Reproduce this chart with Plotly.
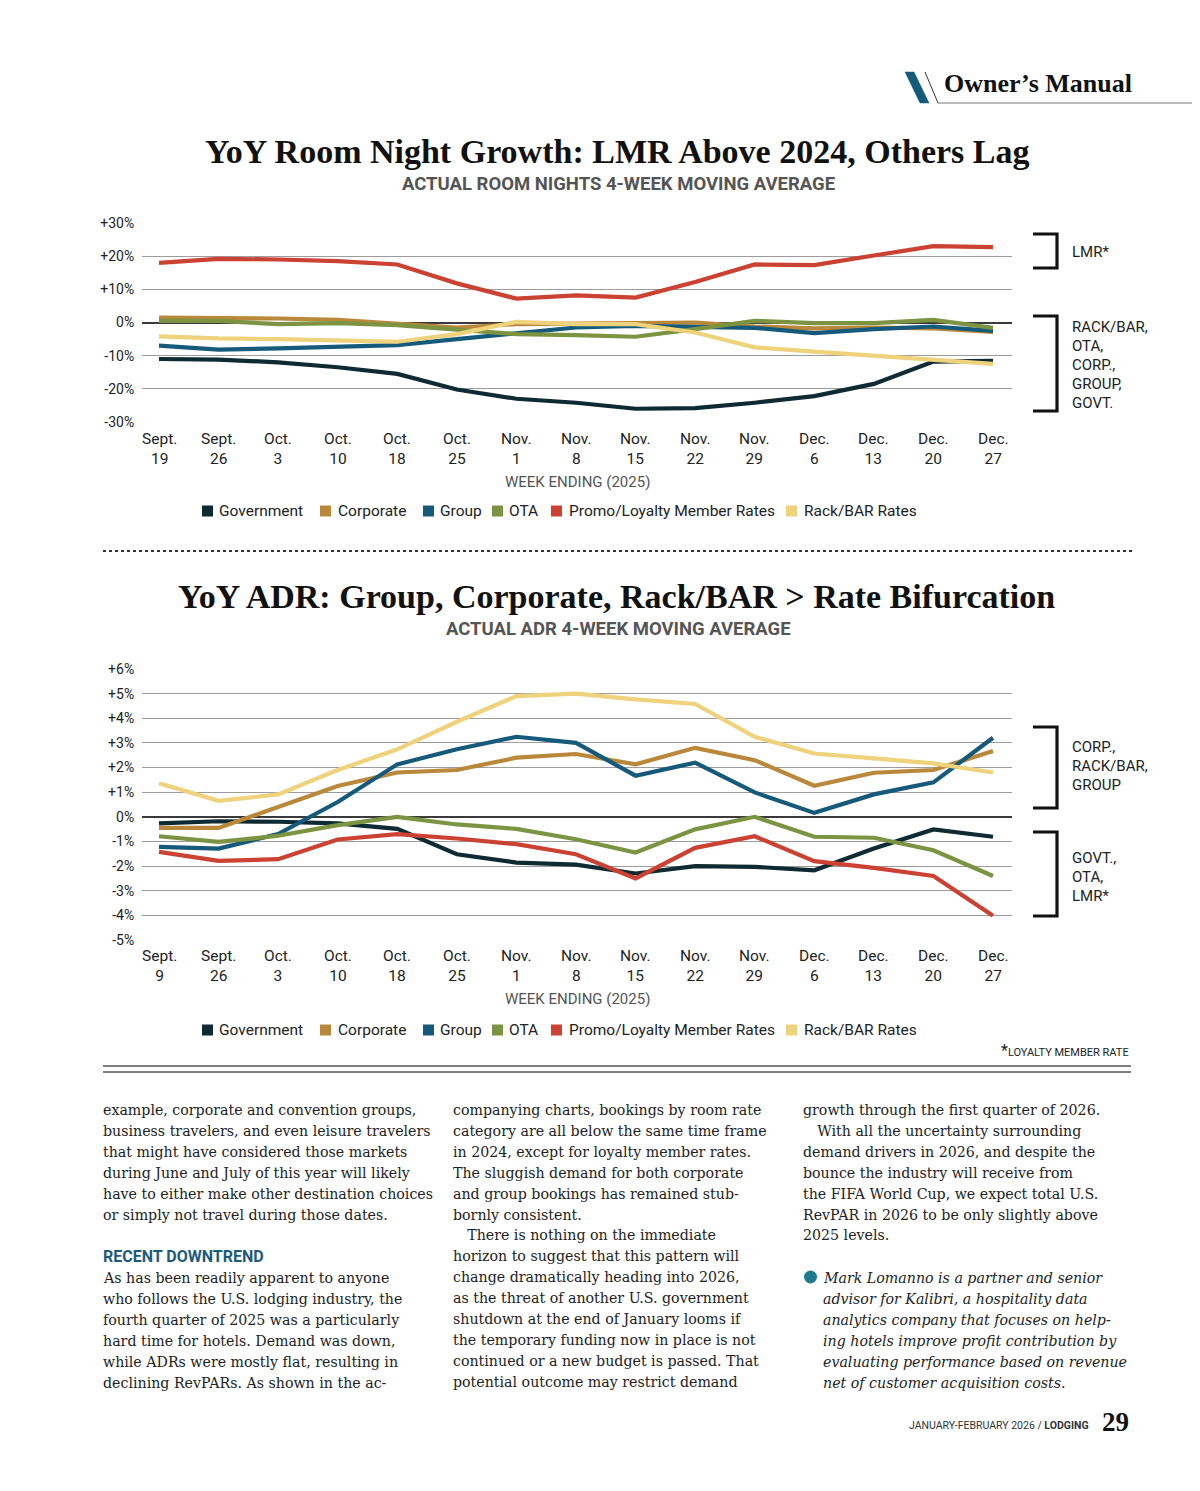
import plotly.graph_objects as go

W, H = 1200, 1491

# ---------------- data ----------------
weeks_rn = ["Sept.<br>19", "Sept.<br>26", "Oct.<br>3", "Oct.<br>10", "Oct.<br>18", "Oct.<br>25",
            "Nov.<br>1", "Nov.<br>8", "Nov.<br>15", "Nov.<br>22", "Nov.<br>29", "Dec.<br>6",
            "Dec.<br>13", "Dec.<br>20", "Dec.<br>27"]
weeks_adr = ["Sept.<br>9", "Sept.<br>26", "Oct.<br>3", "Oct.<br>10", "Oct.<br>18", "Oct.<br>25",
             "Nov.<br>1", "Nov.<br>8", "Nov.<br>15", "Nov.<br>22", "Nov.<br>29", "Dec.<br>6",
             "Dec.<br>13", "Dec.<br>20", "Dec.<br>27"]

series_names = ["Government", "Corporate", "Group", "OTA", "Promo/Loyalty Member Rates", "Rack/BAR Rates"]
series_colors = ["#0e2a32", "#b9883a", "#155a7a", "#7c9441", "#cb4232", "#eed27c"]

rn_government = [-11.0, -11.2, -12.0, -13.5, -15.5, -20.2, -23.0, -24.2, -26.0, -25.8, -24.2, -22.2, -18.5, -11.8, -11.6]
rn_corporate = [1.5, 1.5, 1.2, 0.8, -0.5, -1.5, -0.5, -0.2, -0.2, 0.0, -1.2, -1.8, -1.5, -1.8, -2.8]
rn_group = [-7.0, -8.2, -7.8, -7.2, -6.8, -5.0, -3.2, -1.5, -1.0, -1.2, -1.6, -3.2, -2.0, -1.2, -2.5]
rn_ota = [0.5, 0.5, -0.5, -0.2, -0.8, -2.2, -3.5, -3.8, -4.3, -2.0, 0.5, -0.2, -0.2, 0.8, -1.6]
rn_lmr = [18.0, 19.2, 19.0, 18.5, 17.5, 11.8, 7.2, 8.2, 7.5, 12.2, 17.5, 17.3, 20.2, 23.0, 22.7]
rn_rack = [-4.2, -4.8, -5.0, -5.5, -5.8, -3.5, 0.2, -0.5, -0.5, -3.0, -7.5, -8.8, -10.0, -11.3, -12.5]

adr_government = [-0.27, -0.18, -0.2, -0.27, -0.49, -1.52, -1.86, -1.94, -2.3, -2.0, -2.03, -2.17, -1.29, -0.51, -0.81]
adr_corporate = [-0.45, -0.45, 0.4, 1.25, 1.8, 1.9, 2.4, 2.55, 2.13, 2.8, 2.3, 1.26, 1.79, 1.9, 2.67]
adr_group = [-1.22, -1.29, -0.7, 0.6, 2.13, 2.74, 3.25, 3.0, 1.67, 2.2, 0.99, 0.16, 0.91, 1.4, 3.21]
adr_ota = [-0.79, -1.02, -0.77, -0.34, 0.0, -0.31, -0.49, -0.91, -1.45, -0.51, 0.0, -0.81, -0.85, -1.36, -2.4]
adr_lmr = [-1.42, -1.79, -1.72, -0.92, -0.7, -0.88, -1.11, -1.52, -2.5, -1.26, -0.79, -1.8, -2.07, -2.4, -4.02]
adr_rack = [1.36, 0.65, 0.91, 1.9, 2.74, 3.86, 4.9, 5.0, 4.77, 4.58, 3.25, 2.57, 2.37, 2.17, 1.8]

rn_ticks = [30, 20, 10, 0, -10, -20, -30]
rn_ticktext = ["+30%", "+20%", "+10%", "0%", "-10%", "-20%", "-30%"]
adr_ticks = [6, 5, 4, 3, 2, 1, 0, -1, -2, -3, -4, -5]
adr_ticktext = ["+6%", "+5%", "+4%", "+3%", "+2%", "+1%", "0%", "-1%", "-2%", "-3%", "-4%", "-5%"]

col1 = ["example, corporate and convention groups,",
        "business travelers, and even leisure travelers",
        "that might have considered those markets",
        "during June and July of this year will likely",
        "have to either make other destination choices",
        "or simply not travel during those dates."]
col1b = ["As has been readily apparent to anyone",
         "who follows the U.S. lodging industry, the",
         "fourth quarter of 2025 was a particularly",
         "hard time for hotels. Demand was down,",
         "while ADRs were mostly flat, resulting in",
         "declining RevPARs. As shown in the ac-"]
col2 = ["companying charts, bookings by room rate",
        "category are all below the same time frame",
        "in 2024, except for loyalty member rates.",
        "The sluggish demand for both corporate",
        "and group bookings has remained stub-",
        "bornly consistent.",
        "\u2003There is nothing on the immediate",
        "horizon to suggest that this pattern will",
        "change dramatically heading into 2026,",
        "as the threat of another U.S. government",
        "shutdown at the end of January looms if",
        "the temporary funding now in place is not",
        "continued or a new budget is passed. That",
        "potential outcome may restrict demand"]
col3 = ["growth through the first quarter of 2026.",
        "\u2003With all the uncertainty surrounding",
        "demand drivers in 2026, and despite the",
        "bounce the industry will receive from",
        "the FIFA World Cup, we expect total U.S.",
        "RevPAR in 2026 to be only slightly above",
        "2025 levels."]
bio = ["Mark Lomanno is a partner and senior",
       "advisor for Kalibri, a hospitality data",
       "analytics company that focuses on help-",
       "ing hotels improve profit contribution by",
       "evaluating performance based on revenue",
       "net of customer acquisition costs."]

# ---------------- helpers ----------------
OX, OY = 8, 8  # page body margin compensation

def px(x):
    return (x - OX) / W

def py(y):
    return 1 - (y - OY) / H

SANS = "Roboto"
SERIF = "Liberation Serif"
BODYFONT = "DejaVu Serif"
annotations = []
shapes = []

def text(x, y, s, size, family=SANS, color="#222", xanchor="left", yanchor="middle"):
    annotations.append(dict(x=px(x), y=py(y), xref="paper", yref="paper", text=s, showarrow=False,
                            xanchor=xanchor, yanchor=yanchor,
                            font=dict(size=size, family=family, color=color)))

def line(x0, y0, x1, y1, color="#000", width=1, dash="solid"):
    shapes.append(dict(type="line", xref="paper", yref="paper", x0=px(x0), y0=py(y0), x1=px(x1), y1=py(y1),
                       line=dict(color=color, width=width, dash=dash)))

def path(points, fill=None, color="#000", width=1):
    d = "M " + " L ".join(f"{px(a):.5f},{py(b):.5f}" for a, b in points)
    if fill:
        d += " Z"
    shapes.append(dict(type="path", xref="paper", yref="paper", path=d,
                       fillcolor=fill if fill else "rgba(0,0,0,0)",
                       line=dict(color=color, width=width)))

def bracket(x0, x1, ytop, ybot):
    path([(x0, ytop), (x1, ytop), (x1, ybot), (x0, ybot)], color="#111", width=3.2)

fig = go.Figure()

rn_series = [rn_government, rn_corporate, rn_group, rn_ota, rn_lmr, rn_rack]
adr_series = [adr_government, adr_corporate, adr_group, adr_ota, adr_lmr, adr_rack]

for name, color, vals in zip(series_names, series_colors, rn_series):
    fig.add_trace(go.Scatter(x=weeks_rn, y=vals, mode="lines", name=name, xaxis="x", yaxis="y",
                             line=dict(color=color, width=4.2), showlegend=False))
for name, color, vals in zip(series_names, series_colors, adr_series):
    fig.add_trace(go.Scatter(x=weeks_adr, y=vals, mode="lines", name=name, xaxis="x2", yaxis="y2",
                             line=dict(color=color, width=4.2), showlegend=False))

# plot geometry (page pixels)
X0, X1 = 142, 1012
FIRST, LAST = 159, 993
step = (LAST - FIRST) / 14
xr = [-(FIRST - X0) / step, 14 + (X1 - LAST) / step]

axis_x = dict(type="category", range=xr, showgrid=False, zeroline=False, showline=False,
              showticklabels=False, ticks="")
axis_y = dict(showgrid=True, gridcolor="#9c9c9c", gridwidth=1.2, zeroline=True, zerolinecolor="#3a3a3a",
              zerolinewidth=1.6, showline=False, ticks="outside", ticklen=4, tickcolor="rgba(0,0,0,0)",
              tickfont=dict(family=SANS, size=14, color="#222"))

fig.update_layout(
    width=W, height=H, margin=dict(l=0, r=0, t=0, b=0, autoexpand=False),
    paper_bgcolor="white", plot_bgcolor="white", showlegend=False,
    xaxis=dict(axis_x, domain=[px(X0), px(X1)], anchor="y"),
    yaxis=dict(axis_y, domain=[py(422), py(223)], range=[-30, 30], tickvals=rn_ticks,
               ticktext=rn_ticktext, anchor="x"),
    xaxis2=dict(axis_x, domain=[px(X0), px(X1)], anchor="y2"),
    yaxis2=dict(axis_y, domain=[py(940), py(669)], range=[-5, 6], tickvals=adr_ticks,
                ticktext=adr_ticktext, anchor="x2"),
)

# category tick labels (two lines, one text each)
def xlabels(cats, xref, ycen):
    for i, c in enumerate(cats):
        annotations.append(dict(x=i, y=py(ycen), xref=xref, yref="paper", text=c, showarrow=False,
                                xanchor="center", yanchor="middle",
                                font=dict(size=15.5, family=SANS, color="#222")))

xlabels(weeks_rn, "x", 448.5)
xlabels(weeks_adr, "x2", 965.5)

# ---------------- header ----------------
path([(905, 72), (914, 72), (929, 103), (920, 103)], fill="#155a7a", color="#155a7a", width=0.5)
line(925, 72, 938, 103, color="#333", width=1)
line(938, 103, 1200, 103, color="#777", width=1.2)
text(942, 83, "<b>Owner\u2019s Manual</b>", 26, SERIF, "#111")

# ---------------- chart 1 texts ----------------
text(617, 151, "<b>YoY Room Night Growth: LMR Above 2024, Others Lag</b>", 34, SERIF, "#111", "center")
text(618, 184, "<b>ACTUAL ROOM NIGHTS 4-WEEK MOVING AVERAGE</b>", 18.5, SANS, "#555", "center")
text(577, 482, "WEEK ENDING (2025)", 15, SANS, "#555", "center")

legend_x = [(202, 217), (320, 336), (423, 438), (492, 507), (551, 567), (786, 802)]

def legend(ycen):
    for (sx, tx), name, color in zip(legend_x, series_names, series_colors):
        shapes.append(dict(type="rect", xref="paper", yref="paper", x0=px(sx), x1=px(sx + 11),
                           y0=py(ycen + 5.5), y1=py(ycen - 5.5), fillcolor=color, line=dict(width=0)))
        text(tx, ycen, name, 15.5, SANS, "#222")

legend(511)

bracket(1033, 1057, 234, 268)
text(1070, 252, "LMR*", 15, SANS, "#222")
bracket(1033, 1057, 316, 411)
for i, s in enumerate(["RACK/BAR,", "OTA,", "CORP.,", "GROUP,", "GOVT."]):
    text(1070, 327 + i * 19, s, 15, SANS, "#222")

# separator
line(103, 551, 1132, 551, color="#333", width=1.8, dash="dot")

# ---------------- chart 2 texts ----------------
text(616, 597, "<b>YoY ADR: Group, Corporate, Rack/BAR &gt; Rate Bifurcation</b>", 34, SERIF, "#111", "center")
text(618, 629, "<b>ACTUAL ADR 4-WEEK MOVING AVERAGE</b>", 18.5, SANS, "#555", "center")
text(577, 999, "WEEK ENDING (2025)", 15, SANS, "#555", "center")
legend(1030)

bracket(1033, 1057, 727, 808)
for i, s in enumerate(["CORP.,", "RACK/BAR,", "GROUP"]):
    text(1070, 747 + i * 19, s, 15, SANS, "#222")
bracket(1033, 1057, 832, 916)
for i, s in enumerate(["GOVT.,", "OTA,", "LMR*"]):
    text(1070, 858 + i * 19, s, 15, SANS, "#222")

text(1131, 1050, "<span style='font-size:16px'>*</span>LOYALTY MEMBER RATE", 11, SANS, "#222", "right")
line(103, 1066, 1131, 1066, color="#555", width=1.3)
line(103, 1072, 1131, 1072, color="#555", width=1.3)

# ---------------- body text ----------------
LS = 20.9
BODY = 14.2
C1, C2, C3 = 101, 451, 801
for i, s in enumerate(col1):
    text(C1, 1110 + i * LS, s, BODY, BODYFONT, "#222")
text(C1, 1256, "<b>RECENT DOWNTREND</b>", 16, SANS, "#1d5b7b")
for i, s in enumerate(col1b):
    text(C1, 1278 + i * LS, s, BODY, BODYFONT, "#222")
for i, s in enumerate(col2):
    text(C2, 1110 + i * LS, s, BODY, BODYFONT, "#222")
for i, s in enumerate(col3):
    text(C3, 1110 + i * LS, s, BODY, BODYFONT, "#222")
shapes.append(dict(type="circle", xref="paper", yref="paper", x0=px(804), x1=px(817),
                   y0=py(1283.5), y1=py(1270.5), fillcolor="#1f7a8c", line=dict(width=0)))
for i, s in enumerate(bio):
    text(821, 1278 + i * LS, "<i>" + s + "</i>", BODY, BODYFONT, "#222")

# footer
text(1091, 1425, "JANUARY-FEBRUARY 2026 / <b>LODGING</b>", 10.5, SANS, "#333", "right")
text(1131, 1422, "<b>29</b>", 27, SERIF, "#111", "right")

fig.update_layout(annotations=annotations, shapes=shapes)
fig.write_html("out.html")
